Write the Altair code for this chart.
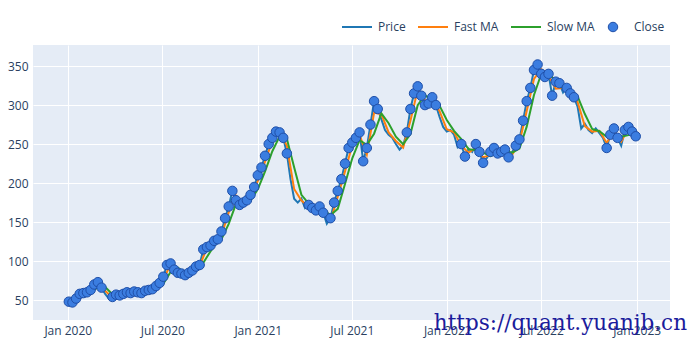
import altair as alt
import pandas as pd

# Weekly closing prices (first week: 2020-01-03)
price = [
    48, 47, 52, 58, 59, 60, 63, 70, 73, 66,
    58, 52, 54, 57, 56, 58, 60, 59, 61, 60,
    59, 62, 63, 64, 68, 72, 80, 95, 97, 89,
    85, 84, 82, 85, 88, 93, 95, 115, 118, 120,
    126, 128, 138, 155, 170, 190, 178, 172, 175, 178,
    185, 195, 210, 220, 235, 250, 258, 266, 265, 258,
    238, 205, 180, 175, 180, 168, 172, 168, 165, 170,
    162, 148, 155, 175, 190, 205, 225, 245, 252, 258,
    265, 228, 245, 275, 305, 295, 282, 268, 262, 258,
    250, 243, 248, 265, 295, 315, 324, 312, 300, 302,
    310, 300, 285, 272, 266, 268, 262, 246, 250, 234,
    244, 240, 250, 240, 226, 232, 240, 245, 238, 240,
    243, 233, 240, 248, 256, 280, 305, 322, 345, 352,
    340, 336, 340, 312, 330, 328, 316, 322, 315, 310,
    298, 270, 276, 268, 264, 270, 264, 258, 245, 262,
    270, 258, 248, 268, 272, 266, 260, 256,
]

# Fast MA, read every second week starting at week 2
fast_ma = [
    49.5, 58.5, 61.5, 71.5, 62, 53, 56.5, 59, 60, 59.5,
    62.5, 66, 76, 96, 87, 83, 86.5, 94, 116.5, 123,
    133, 162.5, 184, 173.5, 181.5, 202.5, 227.5, 254, 265.5, 248,
    192.5, 177.5, 170, 166.5, 166, 151.5, 182.5, 215, 248.5, 261.5,
    236.5, 290, 288.5, 265, 254, 245.5, 280, 319.5, 306, 306,
    292.5, 269, 265, 248, 239, 245, 233, 236, 241.5, 241.5,
    236.5, 252, 292.5, 333.5, 346, 338, 321, 322, 318.5, 304,
    273, 266, 267, 251.5, 266, 253, 270, 263,
]

# Slow MA, read every second week starting at week 4
slow_ma = [
    54, 60, 66.5, 66.8, 57.5, 54.8, 57.8, 59.5, 59.8, 61,
    64.3, 71, 86, 91.5, 85, 84.8, 90.3, 105.3, 119.8, 128,
    147.8, 173.3, 178.8, 177.5, 192, 215, 240.8, 259.8, 256.8, 220.3,
    185, 173.8, 168.3, 166.3, 158.8, 167, 198.8, 231.8, 255, 249,
    263.3, 289.3, 276.8, 259.5, 249.8, 262.8, 299.8, 312.8, 306, 299.3,
    280.8, 267, 256.5, 243.5, 242, 239, 234.5, 238.8, 241.5, 239,
    244.3, 272.3, 313, 339.8, 342, 329.5, 321.5, 320.3, 311.3, 288.5,
    269.5, 266.5, 259.3, 258.8, 259.5, 261.5, 263.5,
]

# Weeks (inclusive ranges) that carry a "Close" marker
close_runs = [(0, 9), (12, 60), (66, 70), (72, 85), (93, 101), (108, 109),
              (112, 114), (116, 121), (123, 135), (137, 139), (148, 151), (153, 156)]

series_names = ["Price", "Fast MA", "Slow MA"]
series_colors = ["#1f77b4", "#ff7f0e", "#2ca02c"]
close_name = "Close"
close_fill = "#3b7de0"
close_stroke = "#1f4fa8"
y_ticks = [50, 100, 150, 200, 250, 300, 350]
x_tick_dates = [(2020, 1), (2020, 7), (2021, 1), (2021, 7), (2022, 1), (2022, 7), (2023, 1)]
watermark = "https://quant.yuanjb.cn"

dates = pd.date_range("2020-01-03", periods=len(price), freq="7D")
price_df = pd.DataFrame({"date": dates, "value": price, "series": "Price"})
fast_df = pd.DataFrame({"date": dates[2::2][:len(fast_ma)], "value": fast_ma, "series": "Fast MA"})
slow_df = pd.DataFrame({"date": dates[4::2][:len(slow_ma)], "value": slow_ma, "series": "Slow MA"})
close_idx = [i for a, b in close_runs for i in range(a, b + 1)]
close_df = pd.DataFrame({"date": dates[close_idx], "value": [price[i] for i in close_idx],
                         "series": close_name})

FONT = "Open Sans"
TXT = "#2a3f5f"

x_enc = alt.X(
    "date:T",
    scale=alt.Scale(domain=[alt.DateTime(year=2019, month=10, date=26),
                            alt.DateTime(year=2023, month=3, date=6)]),
    axis=alt.Axis(values=[alt.DateTime(year=y, month=m, date=1) for y, m in x_tick_dates],
                  format="%b %Y", title=None, domain=False, ticks=False,
                  gridColor="white", gridWidth=1, labelPadding=5, labelFlush=False,
                  labelFont=FONT, labelFontSize=12, labelColor=TXT),
)
y_enc = alt.Y(
    "value:Q",
    scale=alt.Scale(domain=[24.5, 377], nice=False, zero=False),
    axis=alt.Axis(values=y_ticks, title=None, domain=False, ticks=False,
                  gridColor="white", gridWidth=1, labelPadding=5,
                  labelFont=FONT, labelFontSize=12, labelColor=TXT),
)

line_legend = alt.Legend(
    title=None, orient="none", direction="horizontal", legendX=308, legendY=-34,
    symbolType="stroke", symbolSize=900, symbolStrokeWidth=2, labelOffset=5,
    columnPadding=8, padding=0, labelFont=FONT, labelFontSize=12, labelColor=TXT,
)
color_enc = alt.Color("series:N", scale=alt.Scale(domain=series_names, range=series_colors),
                      legend=line_legend)


def line_layer(df):
    return alt.Chart(df).mark_line(strokeWidth=2).encode(x=x_enc, y=y_enc, color=color_enc)


close_legend = alt.Legend(
    title=None, orient="none", direction="horizontal", legendX=574, legendY=-24,
    symbolType="circle", symbolSize=90, symbolStrokeColor=close_stroke,
    symbolStrokeWidth=1, symbolOpacity=1, labelOffset=15, padding=0,
    labelFont=FONT, labelFontSize=12, labelColor=TXT,
)
points = alt.Chart(close_df).mark_point(
    filled=True, shape="circle", size=90, opacity=1, stroke=close_stroke, strokeWidth=1
).encode(
    x=x_enc, y=y_enc,
    fill=alt.Fill("series:N", scale=alt.Scale(domain=[close_name], range=[close_fill]),
                  legend=close_legend),
)

wm = alt.Chart(pd.DataFrame({"t": [watermark]})).mark_text(
    align="right", baseline="alphabetic", font="DejaVu Serif", fontSize=21.5, color="#1c1c9c"
).encode(text="t:N", x=alt.value(654), y=alt.value(285))

chart = alt.layer(
    line_layer(price_df), line_layer(fast_df), line_layer(slow_df), points, wm
).properties(
    width=637, height=275,
    padding={"left": 33, "top": 45, "right": 30, "bottom": 30},
    autosize=alt.AutoSizeParams(type="none"),
    background="white",
).configure_view(fill="#E5ECF6", stroke=None)

chart.save("out.html", embed_options={"renderer": "svg", "actions": False})
